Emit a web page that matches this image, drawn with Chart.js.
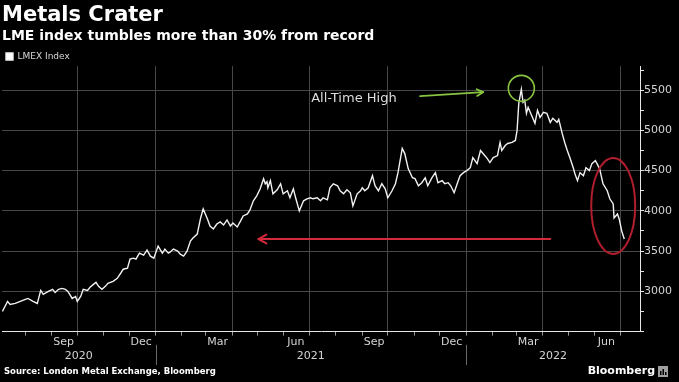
<!DOCTYPE html>
<html>
<head>
<meta charset="utf-8">
<script src="https://cdn.jsdelivr.net/npm/chart.js@4.4.0/dist/chart.umd.min.js"></script>
<style>
  html, body { margin: 0; padding: 0; background: #000; }
  #c { display: block; }
</style>
</head>
<body>
<canvas id="c" width="679" height="382"></canvas>
<script>
// ---------- data (days since 2020-07-01, LMEX index level) ----------
const days1 = [4,10,13,19,25,31,34,40,45,49,52,58,63,66,70,74,78,81,86,90,92,96,99,104,107,111,114,117,121,125,128,134,139,143,146,151,154,158,161,165,170,174,178,182,187,192,195,199];
const lmex1 = [2750,2875,2837,2850,2875,2900,2912,2875,2850,3012,2962,3000,3025,2987,3025,3037,3025,3000,2912,2937,2875,2937,3025,3012,3050,3087,3112,3062,3025,3062,3100,3125,3162,3225,3275,3287,3400,3412,3400,3475,3450,3512,3437,3412,3562,3475,3525,3475];
const days2 = [201,205,210,213,217,221,225,228,233,237,240,245,248,252,256,260,264,268,272,275,280,284,287,292,295,299,303,307,311,313,315,316,319,322,327,331,334,339,342,346,349,353,358,362,366,369,374,378,381,386];
const lmex2 = [3487,3525,3500,3462,3437,3500,3625,3662,3712,3912,4025,3900,3812,3775,3837,3862,3825,3887,3812,3850,3800,3875,3937,3962,4012,4125,4187,4275,4400,4337,4362,4287,4375,4212,4262,4337,4212,4250,4162,4275,4150,4000,4125,4150,4162,4150,4162,4125,4162,4137];
const days3 = [389,393,398,401,405,409,413,416,421,425,427,430,434,439,442,446,450,454,457,462,466,469,474,477,481,486,489,493,497,501,504,509,513,516,521,524,528,531,535,539,542,546,550,554,557,562,566,569,574,577];
const lmex3 = [4287,4337,4312,4250,4212,4262,4225,4062,4212,4250,4287,4250,4287,4437,4312,4250,4337,4275,4162,4250,4337,4475,4775,4712,4525,4412,4400,4312,4350,4412,4312,4412,4475,4350,4375,4337,4350,4312,4225,4350,4437,4475,4500,4537,4662,4587,4750,4712,4650,4600];
const days4 = [581,586,589,591,595,598,603,607,609,611,614,616,618,620,622,627,630,633,636,640,644,648,651,656,658,662,665,668,671,675,677,680,683,687,690,694,697,701,703,706,710,715,718,722,723,727,729,732,735];
const lmex4 = [4662,4687,4850,4750,4812,4837,4850,4875,5000,5337,5510,5350,5375,5212,5287,5162,5087,5250,5162,5225,5212,5100,5150,5100,5137,4962,4850,4750,4662,4537,4462,4375,4475,4437,4537,4500,4587,4625,4587,4525,4337,4250,4150,4087,3912,3962,3900,3750,3650];

const days = [...days1, ...days2, ...days3, ...days4];
const lmex = [...lmex1, ...lmex2, ...lmex3, ...lmex4];

const seriesName = 'LMEX Index';
const monthLabels = ['Sep', 'Dec', 'Mar', 'Jun', 'Sep', 'Dec', 'Mar', 'Jun'];
const monthLabelYM = [[2020, 9], [2020, 12], [2021, 3], [2021, 6], [2021, 9], [2021, 12], [2022, 3], [2022, 6]];
const yearLabels = ['2020', '2021', '2022'];
const yTickLabels = [3000, 3500, 4000, 4500, 5000, 5500];

const titleText = 'Metals Crater';
const subtitleText = 'LME index tumbles more than 30% from record';
const sourceText = 'Source: London Metal Exchange, Bloomberg';
const brandText = 'Bloomberg';
const peakText = 'All-Time High';

// ---------- helpers ----------
const START = Date.UTC(2020, 6, 1);
const dayOf = (y, m, d) => Math.round((Date.UTC(y, m - 1, d) - START) / 86400000);

const xMin = 3.5, xMax = 753.5;
const yMin = 2500, yMax = 5800;

// month-start ticks & quarter gridlines
const monthStarts = [];
for (let y = 2020, m = 8; y < 2022 || (y === 2022 && m <= 7); ) {
  monthStarts.push(dayOf(y, m, 1));
  m++; if (m > 12) { m = 1; y++; }
}
const quarterSet = new Set(monthStarts.filter(v => {
  const dt = new Date(START + v * 86400000);
  return [0, 3, 6, 9].includes(dt.getUTCMonth());
}));
const monthSet = new Set(monthStarts);
const labelMap = new Map();
monthLabelYM.forEach(([y, m], i) => labelMap.set(dayOf(y, m, 15), monthLabels[i]));
const xTickValues = [...monthStarts, ...labelMap.keys()].sort((a, b) => a - b);

const jan21 = dayOf(2021, 1, 1), jan22 = dayOf(2022, 1, 1);
const yearCenters = [(xMin + jan21) / 2, (jan21 + jan22) / 2, (jan22 + xMax) / 2];

const yAllTicks = [];
for (let v = 2500; v <= 5750; v += 250) yAllTicks.push(v);
const yLabelSet = new Set(yTickLabels);

const gridColor = '#474747';
const axisColor = '#e6e6e6';
const labelColor = '#d4d4d4';
const FONT = 'DejaVu Sans';

// annotation layout (in data space)
let peakIdx = 0;
lmex.forEach((v, i) => { if (v > lmex[peakIdx]) peakIdx = i; });
const peakDay = days[peakIdx], peakVal = lmex[peakIdx];
const anno = {
  greenArrow: { x1: 495, y1: 5425, x2: peakDay - 45, y2: 5475 },
  label: { x: 367, y: 5400 },
  redArrow: { x1: 648, x2: 305, y: 3650 },
  ellipse: { x: 722, y: 4062, rx: 22, ry: 48 }
};

function arrow(ctx, x1, y1, x2, y2, color, w, head) {
  const a = Math.atan2(y2 - y1, x2 - x1);
  ctx.strokeStyle = color; ctx.lineWidth = w; ctx.lineCap = 'round'; ctx.lineJoin = 'round';
  ctx.beginPath(); ctx.moveTo(x1, y1); ctx.lineTo(x2, y2); ctx.stroke();
  ctx.beginPath();
  ctx.moveTo(x2 - head * Math.cos(a - 0.5), y2 - head * Math.sin(a - 0.5));
  ctx.lineTo(x2, y2);
  ctx.lineTo(x2 - head * Math.cos(a + 0.5), y2 - head * Math.sin(a + 0.5));
  ctx.stroke();
}

const bgPlugin = {
  id: 'bg',
  beforeDraw(chart) {
    const c = chart.ctx; c.save(); c.fillStyle = '#000'; c.fillRect(0, 0, chart.width, chart.height); c.restore();
  }
};

const legendTrim = {
  id: 'legendTrim',
  beforeLayout(chart) {
    const lg = chart.legend;
    if (lg && !lg.__trim) {
      const f = lg.fit;
      lg.fit = function () { f.call(this); this.height = Math.max(0, this.height - 5); };
      lg.__trim = true;
    }
  }
};

const annotatePlugin = {
  id: 'annotate',
  afterDatasetsDraw(chart) {
    const { ctx } = chart; const x = chart.scales.x, y = chart.scales.y;
    ctx.save();
    // green circle around the peak
    ctx.strokeStyle = '#88c440'; ctx.lineWidth = 1.6;
    ctx.beginPath(); ctx.arc(x.getPixelForValue(peakDay), y.getPixelForValue(peakVal) - 1, 13, 0, Math.PI * 2); ctx.stroke();
    // green arrow
    const g = anno.greenArrow;
    arrow(ctx, x.getPixelForValue(g.x1), y.getPixelForValue(g.y1), x.getPixelForValue(g.x2), y.getPixelForValue(g.y2), '#88c440', 1.8, 7);
    // label
    ctx.fillStyle = '#dcdcdc'; ctx.font = '13px "' + FONT + '"'; ctx.textAlign = 'left'; ctx.textBaseline = 'middle';
    ctx.fillText(peakText, x.getPixelForValue(anno.label.x), y.getPixelForValue(anno.label.y));
    // red arrow
    const r = anno.redArrow;
    arrow(ctx, x.getPixelForValue(r.x1), y.getPixelForValue(r.y), x.getPixelForValue(r.x2), y.getPixelForValue(r.y), '#d42a3c', 2, 9);
    // red ellipse
    const e = anno.ellipse;
    ctx.strokeStyle = '#b01e2e'; ctx.lineWidth = 2;
    ctx.beginPath(); ctx.ellipse(x.getPixelForValue(e.x), y.getPixelForValue(e.y), e.rx, e.ry, 0, 0, Math.PI * 2); ctx.stroke();
    ctx.restore();
  },
  afterDraw(chart) {
    const { ctx } = chart; const x = chart.scales.x, x2 = chart.scales.x2;
    ctx.save();
    // year separators
    ctx.strokeStyle = '#6a6a6a'; ctx.lineWidth = 1;
    [jan21, jan22].forEach(d => {
      const px = Math.round(x.getPixelForValue(d)) + 0.5;
      ctx.beginPath(); ctx.moveTo(px, x.bottom - 4); ctx.lineTo(px, x2.bottom + 1); ctx.stroke();
    });
    // footer
    ctx.fillStyle = '#ffffff'; ctx.textBaseline = 'middle';
    ctx.font = 'bold 8.5px "' + FONT + '"'; ctx.textAlign = 'left';
    ctx.fillText(sourceText, 4, 372);
    ctx.font = 'bold 11px "' + FONT + '"'; ctx.textAlign = 'right';
    ctx.fillText(brandText, 655, 371);
    ctx.fillStyle = '#a0a0a0'; ctx.fillRect(658, 366, 10, 11);
    ctx.fillStyle = '#000';
    ctx.fillRect(660, 371, 1.5, 4); ctx.fillRect(662.5, 369, 1.5, 6); ctx.fillRect(665, 372, 1.5, 3);
    ctx.restore();
  }
};

new Chart(document.getElementById('c'), {
  type: 'line',
  data: {
    datasets: [{
      label: seriesName,
      data: days.map((d, i) => ({ x: d, y: lmex[i] })),
      borderColor: '#f2f2f2',
      backgroundColor: '#ffffff',
      borderWidth: 1.4,
      pointRadius: 0,
      tension: 0,
      fill: false,
      xAxisID: 'x',
      yAxisID: 'y'
    }]
  },
  options: {
    responsive: false,
    animation: false,
    devicePixelRatio: 1,
    layout: { padding: { left: 2, right: 0, top: 0, bottom: 18 } },
    plugins: {
      title: { display: true, text: titleText, align: 'start', color: '#ffffff',
        font: { family: FONT, size: 21, weight: 'bold' }, padding: { top: 3, bottom: 0 } },
      subtitle: { display: true, text: subtitleText, align: 'start', color: '#ffffff',
        font: { family: FONT, size: 14, weight: 'bold' }, padding: { top: 0, bottom: 3 } },
      legend: { display: true, position: 'top', align: 'start',
        labels: { boxWidth: 7, boxHeight: 7, color: '#d8d8d8', font: { family: FONT, size: 9 }, padding: 4 } },
      tooltip: { enabled: false }
    },
    scales: {
      x: {
        type: 'linear', position: 'bottom', min: xMin, max: xMax,
        afterBuildTicks: s => { s.ticks = xTickValues.map(v => ({ value: v })); },
        ticks: { autoSkip: false, maxRotation: 0, minRotation: 0, padding: 0, color: labelColor,
          font: { family: FONT, size: 11 }, callback: v => labelMap.get(v) || '' },
        grid: {
          color: c => (c.tick && quarterSet.has(c.tick.value)) ? gridColor : 'rgba(0,0,0,0)',
          tickColor: c => (c.tick && monthSet.has(c.tick.value)) ? '#9a9a9a' : 'rgba(0,0,0,0)',
          tickLength: 4, drawTicks: true, lineWidth: 1
        },
        border: { display: true, color: axisColor, width: 1 }
      },
      x2: {
        type: 'linear', position: 'bottom', min: xMin, max: xMax,
        afterBuildTicks: s => { s.ticks = yearCenters.map(v => ({ value: v })); },
        ticks: { autoSkip: false, maxRotation: 0, minRotation: 0, padding: 1, color: labelColor,
          font: { family: FONT, size: 11 }, callback: (v, i) => yearLabels[i] || '' },
        grid: { display: false, drawTicks: false },
        border: { display: false }
      },
      y: {
        type: 'linear', position: 'right', min: yMin, max: yMax,
        afterBuildTicks: s => { s.ticks = yAllTicks.map(v => ({ value: v })); },
        afterFit: s => { s.width = 39; },
        ticks: { padding: 0, color: labelColor, font: { family: FONT, size: 11 },
          callback: v => yLabelSet.has(v) ? String(v) : '' },
        grid: {
          color: c => (c.tick && yLabelSet.has(c.tick.value)) ? gridColor : 'rgba(0,0,0,0)',
          tickColor: axisColor, tickLength: 4, lineWidth: 1
        },
        border: { display: true, color: axisColor, width: 1 }
      }
    }
  },
  plugins: [bgPlugin, legendTrim, annotatePlugin]
});
</script>
</body>
</html>
